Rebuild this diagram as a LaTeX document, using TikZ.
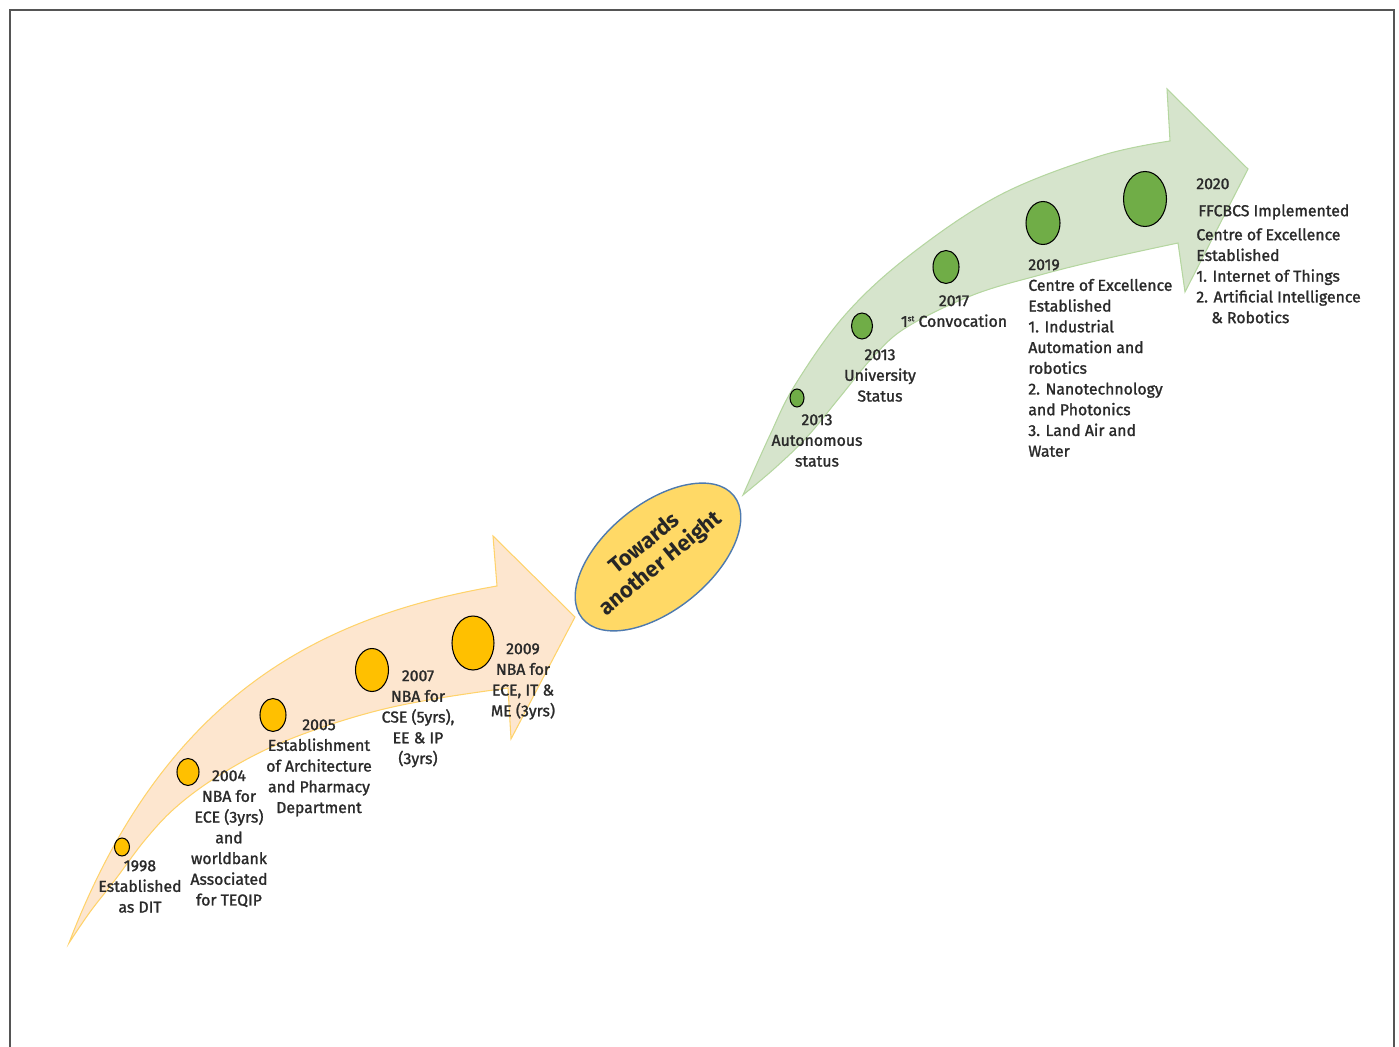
\documentclass[tikz,border=0pt]{standalone}
\usepackage{fontspec}
\setmainfont{Fira Sans}
\newfontfamily\labfont{Fira Sans}[FakeBold=1.4]
\usetikzlibrary{shapes.geometric}
\definecolor{orfill}{HTML}{FDE6CF}
\definecolor{orline}{HTML}{FFD36B}
\definecolor{grfill}{HTML}{D6E4CC}
\definecolor{grline}{HTML}{B5D6A0}
\definecolor{dotor}{HTML}{FFC000}
\definecolor{dotgr}{HTML}{70AD47}
\definecolor{ellfill}{HTML}{FFD966}
\definecolor{ellline}{HTML}{4E7AAE}
\definecolor{txt}{HTML}{2A2A2A}
\definecolor{framec}{HTML}{555555}
\begin{document}
\begin{tikzpicture}[x=0.02cm,y=-0.02cm,
  dot/.style={ellipse, draw=black, line width=0.6pt, inner sep=0pt},
  odot/.style={dot, fill=dotor},
  gdot/.style={dot, fill=dotgr},
  lab/.style={align=center, inner sep=0pt, text=txt, font=\fontsize{9}{11.8}\selectfont\labfont, anchor=north},
  labl/.style={lab, align=left, anchor=north west}]
\useasboundingbox (0,0) rectangle (1399,1047);
\draw[framec, line width=1.2pt] (10,1060) -- (10,10) -- (1394,10) -- (1394,1060);
% orange arrow
\filldraw[fill=orfill, draw=orline, line width=0.6pt]
  (69,943) .. controls (167,687) and (330,615) .. (497,586)
  -- (493,536) -- (575,617) -- (511,739) -- (508,688)
  -- plot[smooth, tension=0.6] coordinates {(508,688) (440,698) (380,710) (320,728) (265,750) (215,778) (175,808) (145,840) (115,880) (90,912) (69,943)}
  -- cycle;
% green arrow
\filldraw[fill=grfill, draw=grline, line width=0.6pt]
  plot[smooth, tension=0.6] coordinates {(743,495) (770,435) (795,385) (845,315) (910,255) (1000,195) (1100,156) (1170,141)}
  -- (1167,89) -- (1248,169) -- (1185,292) -- (1178,243)
  -- plot[smooth, tension=0.6] coordinates {(1178,243) (1100,260) (1040,275) (973,295) (907,327) (873,357) (840,397) (807,437) (775,468) (743,495)}
  -- cycle;
% hub
\node[ellipse, draw=ellline, fill=ellfill, line width=0.8pt, minimum width=3.9cm, minimum height=2.12cm, rotate=39, inner sep=0pt] (hub) at (658,557) {};
\node[rotate=39, align=center, inner sep=0pt, text=black!85, font=\fontsize{12.5}{14.5}\selectfont\bfseries] (hubtxt) at (653,554) {Towards\\another Height};
% orange dots
\node[odot, minimum width=15*0.02cm, minimum height=18*0.02cm] (d1) at (122,847) {};
\node[odot, minimum width=22*0.02cm, minimum height=27*0.02cm] (d2) at (188,772) {};
\node[odot, minimum width=26*0.02cm, minimum height=33*0.02cm] (d3) at (273,715) {};
\node[odot, minimum width=33*0.02cm, minimum height=43*0.02cm] (d4) at (372,670) {};
\node[odot, minimum width=42*0.02cm, minimum height=54*0.02cm] (d5) at (473,643) {};
% green dots
\node[gdot, minimum width=14*0.02cm, minimum height=18*0.02cm] (g1) at (797,398) {};
\node[gdot, minimum width=21*0.02cm, minimum height=26*0.02cm] (g2) at (862,326) {};
\node[gdot, minimum width=26*0.02cm, minimum height=33*0.02cm] (g3) at (946,267) {};
\node[gdot, minimum width=34*0.02cm, minimum height=43*0.02cm] (g4) at (1043,223) {};
\node[gdot, minimum width=43*0.02cm, minimum height=55*0.02cm] (g5) at (1145,199) {};
% labels
\node[lab] (t1) at (140,860) {1998\\Established\\as DIT};
\node[lab] (t2) at (229,770) {2004\\NBA for\\ECE (3yrs)\\and\\worldbank\\Associated\\for TEQIP};
\node[lab] (t3) at (319,719) {2005\\Establishment\\of Architecture\\and Pharmacy\\Department};
\node[lab] (t4) at (418,670) {2007\\NBA for\\CSE (5yrs),\\EE \& IP\\(3yrs)};
\node[lab] (t5) at (523,643) {2009\\NBA for\\ECE, IT \&\\ME (3yrs)};
\node[lab] (u1) at (817,414) {2013\\Autonomous\\status};
\node[lab] (u2) at (880,349) {2013\\University\\Status};
\node[lab] (u3) at (954,295) {2017\\1\raisebox{3.2pt}{\fontsize{4.5}{5}\selectfont st} Convocation};
\node[labl] (u4) at (1028,259) {2019\\Centre of Excellence\\Established\\1. Industrial\\Automation and\\robotics\\2. Nanotechnology\\and Photonics\\3. Land Air and\\Water};
\node[labl] (u5a) at (1196,178) {2020};
\node[labl] (u5b) at (1198,204) {FFCBCS Implemented};
\node[labl] (u5c) at (1196,228) {Centre of Excellence\\Established\\1. Internet of Things\\2. Artificial Intelligence\\\hspace*{8.5pt}\& Robotics};
\end{tikzpicture}
\end{document}
